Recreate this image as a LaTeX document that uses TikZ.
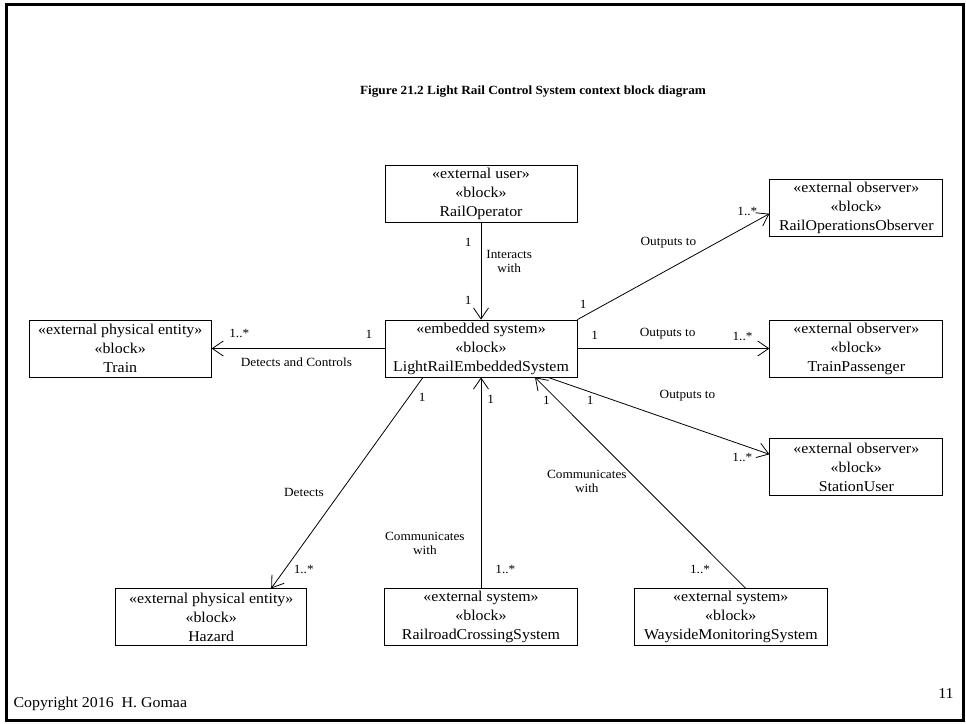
\documentclass[tikz,border=0pt]{standalone}
\usepackage{fontspec}
\setmainfont{Liberation Serif}[FakeStretch=1.06]
\usetikzlibrary{arrows.meta,positioning}

\begin{document}
\begin{tikzpicture}
			[x=1pt,y=-1pt,
			block/.style={rectangle,draw,line width=0.8pt,align=center,inner sep=1pt,minimum height=57pt,font=\fontsize{15}{19}\selectfont},
			conn/.style={draw,line width=0.8pt,-{Straight Barb[length=11pt,width=15pt]}},
			lbl/.style={inner sep=1pt,align=center,font=\fontsize{12.5}{14}\selectfont},
			]
			\useasboundingbox (0,0) rectangle (966,723);
			\draw[line width=3pt] (6.5,4.5) rectangle (963,720.5);
			\node (title) at (533,92) {\fontsize{12.5}{14}\selectfont\bfseries Figure 21.2 Light Rail Control System context block diagram};
			\node (lres) [block,minimum width=192pt] at (481,348.5) {«embedded system»\\«block»\\LightRailEmbeddedSystem};
			\node (ro) [block,minimum width=192pt,above=97pt of lres] {«external user»\\«block»\\RailOperator};
			\node (train) [block,minimum width=182pt,left=173pt of lres] {«external physical entity»\\«block»\\Train};
			\node (tp) [block,minimum width=173pt,right=192pt of lres] {«external observer»\\«block»\\TrainPassenger};
			\node (rops) [block,minimum width=173pt,above=83pt of tp] {«external observer»\\«block»\\RailOperationsObserver};
			\node (su) [block,minimum width=173pt,below=61pt of tp] {«external observer»\\«block»\\StationUser};
			\node (rcs) [block,minimum width=193pt,below=211pt of lres] {«external system»\\«block»\\RailroadCrossingSystem};
			\node (haz) [block,minimum width=191pt,left=77pt of rcs] {«external physical entity»\\«block»\\Hazard};
			\node (wms) [block,minimum width=193pt,right=56pt of rcs] {«external system»\\«block»\\WaysideMonitoringSystem};
			\draw[conn] (ro) -- (lres)
				node[lbl,pos=0.2,left=8pt] (m1) {1}
				node[lbl,pos=0.8,left=8pt] (m2) {1}
				node[lbl,pos=0.4,right=4pt] (a1) {Interacts\\with};
			\draw[conn] (lres) -- (train)
				node[lbl,pos=0.09,above=9pt] (m3) {1}
				node[lbl,pos=0.84,above=9pt] (m4) {1..*}
				node[lbl,pos=0.51,below=8pt] (a2) {Detects and Controls};
			\draw[conn] (lres.north east) -- ([yshift=-6pt]rops.west)
				node[lbl,pos=0.03,above=7pt] (m5) {1}
				node[lbl,pos=0.885,above=9pt] (m6) {1..*}
				node[lbl,pos=0.474,above=20pt] (a3) {Outputs to};
			\draw[conn] (lres) -- (tp)
				node[lbl,pos=0.09,above=8pt] (m7) {1}
				node[lbl,pos=0.86,above=6pt] (m8) {1..*}
				node[lbl,pos=0.47,above=8pt] (a4) {Outputs to};
			\draw[conn] ([xshift=67pt]lres.south) -- ([yshift=13pt]su.west)
				node[lbl,pos=0.19,below=3pt] (m9) {1}
				node[lbl,pos=0.878,below=6.5pt] (m10) {1..*}
				node[lbl,pos=0.63,above=23pt] (a5) {Outputs to};
			\draw[conn] ([xshift=-58pt]lres.south) -- ([xshift=60pt]haz.north)
				node[lbl,pos=0.095,right=9pt] (m11) {1}
				node[lbl,pos=0.91,right=7.5pt] (m12) {1..*}
				node[lbl,pos=0.545,left=15pt] (a6) {Detects};
			\draw[conn] (rcs) -- (lres)
				node[lbl,pos=0.09,right=13pt] (m13) {1..*}
				node[lbl,pos=0.896,right=5pt] (m14) {1}
				node[lbl,pos=0.213,left=15pt] (a7) {Communicates\\with};
			\draw[conn] ([xshift=15pt]wms.north) -- ([xshift=54pt]lres.south)
				node[lbl,pos=0.09,left=15.5pt] (m15) {1..*}
				node[lbl,pos=0.89,left=7pt] (m16) {1}
				node[lbl,pos=0.507,left=11pt] (a8) {Communicates\\with};
			\node (copy) [anchor=west,font=\fontsize{15}{17}\selectfont] at (10,704) {Copyright 2016\ \ H. Gomaa};
			\node (page) [font=\fontsize{15}{17}\selectfont] at (946,694) {11};
			\end{tikzpicture}
\end{document}
